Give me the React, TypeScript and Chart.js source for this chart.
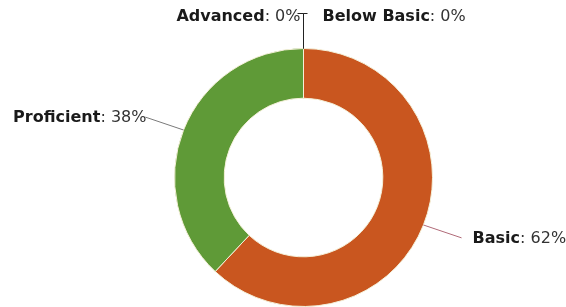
import React, { useEffect, useRef } from "react";
import { Chart, registerables } from "chart.js";

Chart.register(...registerables);

const labels = ["Below Basic", "Basic", "Proficient", "Advanced"];
const values = [0, 62, 38, 0];
const colors = ["#c0392b", "#c9561f", "#5f9a37", "#3a6fb0"];
const lineColors = ["#222222", "#b06a78", "#7a7a7a", "#222222"];

const outLabels = {
  id: "outLabels",
  afterDraw(chart: any) {
    const ctx = chart.ctx;
    const meta = chart.getDatasetMeta(0);
    const n = meta.data.length;
    meta.data.forEach((arc: any, i: number) => {
      const { x, y, startAngle, endAngle, outerRadius } = arc.getProps(
        ["x", "y", "startAngle", "endAngle", "outerRadius"],
        true
      );
      const mid = (startAngle + endAngle) / 2;
      const cx = Math.cos(mid);
      const cy = Math.sin(mid);
      const x0 = x + cx * outerRadius;
      const y0 = y + cy * outerRadius;
      const x1 = x + cx * (outerRadius + 41);
      const y1 = y + cy * (outerRadius + 35);
      const vertical = Math.abs(cx) <= 1e-6;
      let right = cx > 1e-6;
      if (vertical) right = i < n / 2;
      ctx.save();
      ctx.strokeStyle = lineColors[i];
      ctx.lineWidth = 1;
      ctx.beginPath();
      ctx.moveTo(x0, y0);
      ctx.lineTo(x1, y1);
      if (vertical) ctx.lineTo(right ? x1 + 4 : x1 - 6, y1);
      ctx.stroke();
      const name = labels[i];
      const rest = ": " + values[i] + "%";
      const boldFont = "bold 16px 'DejaVu Sans', Verdana, sans-serif";
      const normFont = "16px 'DejaVu Sans', Verdana, sans-serif";
      ctx.font = boldFont;
      const wName = ctx.measureText(name).width;
      ctx.font = normFont;
      const wRest = ctx.measureText(rest).width;
      const total = wName + wRest;
      let tx: number;
      if (right) tx = x1 + (vertical ? 19 : 11);
      else tx = x1 + (vertical ? -3 : 1) - total;
      const ty = y1 + (vertical ? 3 : 1);
      ctx.textBaseline = "middle";
      ctx.textAlign = "left";
      ctx.fillStyle = "#1a1a1a";
      ctx.font = boldFont;
      ctx.fillText(name, tx, ty);
      ctx.font = normFont;
      ctx.fillStyle = "#333333";
      ctx.fillText(rest, tx + wName, ty);
      ctx.restore();
    });
  },
};

export default function App() {
  const ref = useRef<HTMLCanvasElement | null>(null);
  useEffect(() => {
    document.body.style.margin = "0";
    const chart = new Chart(ref.current as HTMLCanvasElement, {
      type: "doughnut",
      data: {
        labels,
        datasets: [
          {
            data: values,
            backgroundColor: colors,
            borderColor: "#f4f0d8",
            borderWidth: 1,
          },
        ],
      },
      options: {
        animation: false,
        responsive: false,
        cutout: "61.5%",
        layout: { padding: { left: 41, right: 0, top: 48, bottom: -2 } },
        plugins: {
          legend: { display: false },
          tooltip: { enabled: false },
        },
      },
      plugins: [outLabels],
    });
    return () => chart.destroy();
  }, []);
  return (
    <div style={{ width: 566, height: 307, background: "#ffffff" }}>
      <canvas ref={ref} width={566} height={307} style={{ display: "block" }} />
    </div>
  );
}
